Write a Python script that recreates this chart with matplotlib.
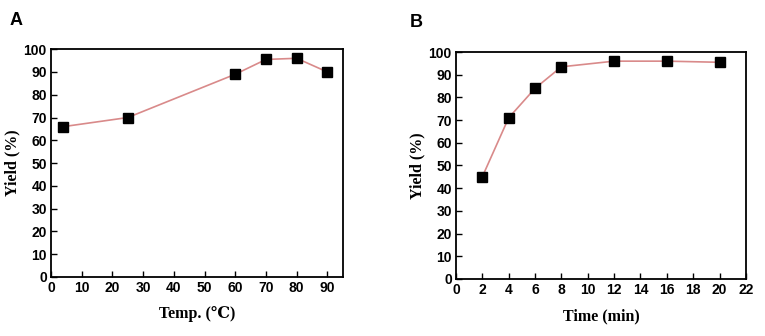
import matplotlib
matplotlib.use("Agg")
import matplotlib.pyplot as plt

# panel A: yield vs temperature
temp_c = [4, 25, 60, 70, 80, 90]
yield_temp = [66, 70, 89, 95.5, 96, 90]
# panel B: yield vs time
time_min = [2, 4, 6, 8, 12, 16, 20]
yield_time = [45, 71, 84, 93.5, 96, 96, 95.5]

LINE = "#d98a8a"
TICKFONT = dict(family=["Liberation Sans", "DejaVu Sans"], weight="bold", size=10)
LABFONT = dict(family=["Liberation Serif", "DejaVu Serif"], weight="bold", size=11.5)

fig = plt.figure(figsize=(7.65, 3.36), dpi=100)
axA = fig.add_axes([0.0667, 0.1756, 0.3813, 0.678])
axB = fig.add_axes([0.596, 0.170, 0.379, 0.675])

def style(ax, xlim, xticks, xlabel):
    ax.set_xlim(*xlim)
    ax.set_ylim(0, 100)
    ax.set_xticks(xticks)
    ax.set_yticks(range(0, 101, 10))
    ax.tick_params(direction="in", length=4, width=1, pad=3)
    for lab in ax.get_xticklabels() + ax.get_yticklabels():
        lab.set(**TICKFONT)
    for s in ax.spines.values():
        s.set_linewidth(1.3)
    ax.set_xlabel(xlabel, labelpad=8, **LABFONT)
    ax.set_ylabel("Yield (%)", labelpad=2, **LABFONT)

axA.plot(temp_c, yield_temp, color=LINE, lw=1.2, marker="s", ms=6.5,
         mfc="black", mec="black", zorder=3)
style(axA, (0, 95), range(0, 91, 10), "Temp. (\u2103)")

axB.plot(time_min, yield_time, color=LINE, lw=1.2, marker="s", ms=6.5,
         mfc="black", mec="black", zorder=3)
style(axB, (0, 22), range(0, 23, 2), "Time (min)")

fig.text(0.012, 0.925, "A", fontsize=13, fontweight="bold", family="Liberation Sans")
fig.text(0.536, 0.92, "B", fontsize=13, fontweight="bold", family="Liberation Sans")

fig.savefig("out.png", dpi=100)
